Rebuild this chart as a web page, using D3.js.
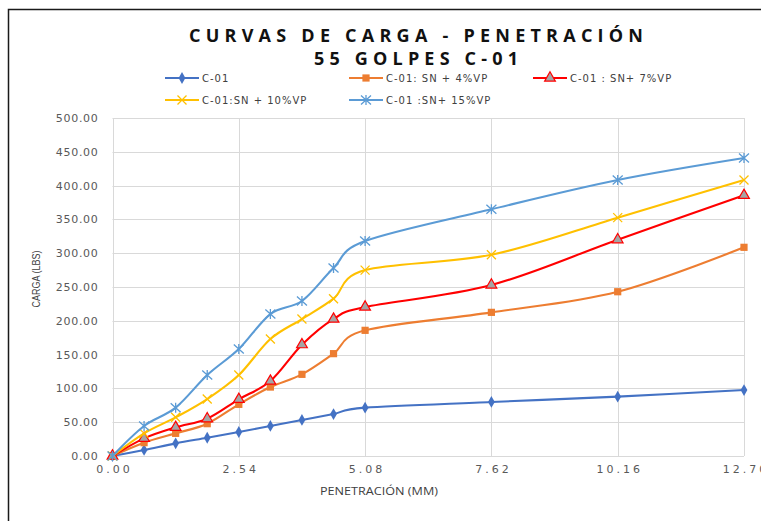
<!DOCTYPE html>
<html>
<head>
<meta charset="utf-8">
<script src="https://cdn.jsdelivr.net/npm/d3@7"></script>
<style>
  html, body { margin: 0; padding: 0; background: #fff; }
  svg { display: block; }
</style>
</head>
<body>
<svg id="chart" width="761" height="521"></svg>
<script>
// Penetration readings (mm) and load readings (lbs) per specimen
const penetration = [0, 0.635, 1.27, 1.905, 2.54, 3.175, 3.81, 4.445, 5.08, 7.62, 10.16, 12.70];
const c01      = [0, 8.9, 18.7, 27.0, 35.5, 44.4, 53.3, 62.1, 71.5, 79.9, 87.8, 97.6];
const c01sn4   = [0, 19.7, 33.5, 47.8, 76.4, 102.0, 120.8, 151.4, 185.9, 212.5, 243.0, 308.7];
const c01sn7   = [0, 26.1, 42.4, 55.2, 83.8, 110.9, 164.7, 202.6, 220.4, 253.0, 320.0, 385.6];
const c01sn10  = [0, 33.5, 57.2, 84.3, 119.8, 173.0, 202.6, 232.7, 275.0, 297.8, 352.6, 408.3];
const c01sn15  = [0, 44.4, 71.5, 119.8, 158.3, 210.0, 229.3, 278.0, 318.0, 365.0, 408.3, 440.8];

const seriesNames = ["C-01", "C-01: SN + 4%VP", "C-01 : SN+ 7%VP", "C-01:SN + 10%VP", "C-01 :SN+ 15%VP"];
const xTicks = [0, 2.54, 5.08, 7.62, 10.16, 12.70];
const yTicks = [0, 50, 100, 150, 200, 250, 300, 350, 400, 450, 500];

const series = [
  { name: seriesNames[0], values: c01,     color: "#4472C4", marker: "diamond" },
  { name: seriesNames[1], values: c01sn4,  color: "#ED7D31", marker: "square" },
  { name: seriesNames[2], values: c01sn7,  color: "#FF0000", marker: "triangle" },
  { name: seriesNames[3], values: c01sn10, color: "#FFC000", marker: "x" },
  { name: seriesNames[4], values: c01sn15, color: "#5B9BD5", marker: "star" }
];

const svg = d3.select("#chart");

// outer frame of the chart area
svg.append("rect")
  .attr("x", 8.5).attr("y", 9.5)
  .attr("width", 800).attr("height", 600)
  .attr("fill", "none").attr("stroke", "#1a1a1a").attr("stroke-width", 1.5);

const x = d3.scaleLinear().domain([0, 12.70]).range([112.5, 744]);
const y = d3.scaleLinear().domain([0, 500]).range([456, 118]);

// gridlines
const grid = svg.append("g").attr("stroke", "#d9d9d9").attr("stroke-width", 1);
grid.selectAll("line.h").data(yTicks).join("line")
  .attr("x1", x(0)).attr("x2", x(12.70))
  .attr("y1", d => Math.round(y(d)) + 0.5).attr("y2", d => Math.round(y(d)) + 0.5);
grid.selectAll("line.v").data(xTicks).join("line")
  .attr("y1", y(0)).attr("y2", y(500))
  .attr("x1", d => Math.round(x(d)) + 0.5).attr("x2", d => Math.round(x(d)) + 0.5);

// y axis labels
const yAxis = d3.axisLeft(y).tickValues(yTicks).tickFormat(d3.format(".2f")).tickSize(0).tickPadding(14);
const gy = svg.append("g").attr("transform", `translate(${x(0)},0)`).call(yAxis);
gy.select(".domain").remove();
gy.selectAll("text")
  .attr("fill", "#595959")
  .style("font-family", "'DejaVu Sans', sans-serif")
  .style("font-size", "11px")
  .style("letter-spacing", "0.7px");

// x axis labels
const xAxis = d3.axisBottom(x).tickValues(xTicks).tickFormat(d3.format(".2f")).tickSize(0).tickPadding(9);
const gx = svg.append("g").attr("transform", `translate(0,${y(0)})`).call(xAxis);
gx.select(".domain").remove();
gx.selectAll("text")
  .attr("fill", "#595959")
  .style("font-family", "'DejaVu Sans', sans-serif")
  .style("font-size", "11px")
  .each(function () {
    const n = this.textContent.length;
    const w = this.getComputedTextLength();
    d3.select(this).attr("textLength", w + 3 * (n - 1)).attr("lengthAdjust", "spacing");
  });

// axis titles
svg.append("text")
  .attr("transform", `translate(37,279) rotate(-90)`)
  .attr("text-anchor", "middle")
  .attr("dominant-baseline", "middle")
  .attr("fill", "#404040")
  .style("font-family", "'Liberation Sans Narrow', 'Liberation Sans', sans-serif")
  .style("font-size", "10.5px")
  .attr("textLength", 57).attr("lengthAdjust", "spacingAndGlyphs")
  .text("CARGA (LBS)");

svg.append("text")
  .attr("x", 379).attr("y", 495)
  .attr("text-anchor", "middle")
  .attr("fill", "#404040")
  .style("font-family", "'Open Sans', sans-serif")
  .style("font-size", "11px")
  .attr("textLength", 118).attr("lengthAdjust", "spacingAndGlyphs")
  .text("PENETRACIÓN (MM)");

// title
const titleLines = ["CURVAS DE CARGA - PENETRACIÓN", "55 GOLPES C-01"];
const titleWidths = [454, 204];
svg.selectAll("text.title").data(titleLines).join("text")
  .attr("class", "title")
  .attr("x", 416).attr("y", (d, i) => 42 + i * 23)
  .attr("text-anchor", "middle")
  .attr("fill", "#111")
  .style("font-family", "'Open Sans', sans-serif")
  .style("font-weight", "bold")
  .style("font-size", "18px")
  .attr("textLength", (d, i) => titleWidths[i]).attr("lengthAdjust", "spacing")
  .text(d => d);

// marker drawing
function drawMarker(sel, s) {
  if (s.marker === "diamond") {
    sel.append("path").attr("d", d3.symbol(d3.symbolDiamond, 40)()).attr("fill", s.color);
  } else if (s.marker === "square") {
    sel.append("path").attr("d", d3.symbol(d3.symbolSquare, 52)()).attr("fill", s.color);
  } else if (s.marker === "triangle") {
    sel.append("path").attr("d", d3.symbol(d3.symbolTriangle, 50)())
      .attr("fill", "#A5A5A5").attr("stroke", s.color).attr("stroke-width", 1.2);
  } else if (s.marker === "x") {
    sel.append("path").attr("d", "M-4.5,-4.5L4.5,4.5M-4.5,4.5L4.5,-4.5")
      .attr("stroke", s.color).attr("stroke-width", 1.3).attr("fill", "none");
  } else if (s.marker === "star") {
    sel.append("path").attr("d", "M-5,-4.5L5,4.5M-5,4.5L5,-4.5M0,-5L0,5")
      .attr("stroke", s.color).attr("stroke-width", 1.3).attr("fill", "none");
  }
}

// curves and markers
const line = d3.line()
  .x(d => x(d[0]))
  .y(d => y(d[1]))
  .curve(d3.curveCardinal.tension(0));

const plot = svg.append("g");
series.forEach(s => {
  const pts = penetration.map((p, i) => [p, s.values[i]]);
  const g = plot.append("g");
  g.append("path")
    .attr("d", line(pts))
    .attr("fill", "none")
    .attr("stroke", s.color)
    .attr("stroke-width", 2.1)
    .attr("stroke-linejoin", "round");
  g.selectAll("g.m").data(pts).join("g")
    .attr("transform", d => `translate(${x(d[0])},${y(d[1])})`)
    .each(function () { drawMarker(d3.select(this), s); });
});

// legend
const legendPos = [
  { x: 165, y: 78 }, { x: 349, y: 78 }, { x: 533, y: 78 },
  { x: 165, y: 100 }, { x: 349, y: 100 }
];
series.forEach((s, i) => {
  const p = legendPos[i];
  const g = svg.append("g").attr("transform", `translate(${p.x},${p.y})`);
  g.append("line").attr("x1", 0).attr("x2", 34).attr("y1", 0).attr("y2", 0)
    .attr("stroke", s.color).attr("stroke-width", 2.1);
  const m = g.append("g").attr("transform", "translate(17,0)");
  drawMarker(m, s);
  g.append("text")
    .attr("x", 37).attr("y", 0)
    .attr("dominant-baseline", "central")
    .attr("fill", "#404040")
    .style("font-family", "'DejaVu Sans', sans-serif")
    .style("font-size", "10px")
    .style("letter-spacing", "1px")
    .text(s.name);
});
</script>
</body>
</html>
